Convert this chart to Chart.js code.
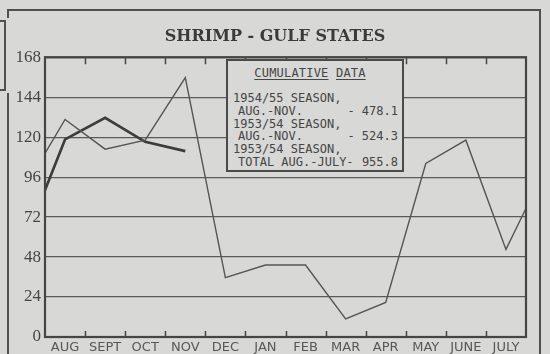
<!DOCTYPE html>
<html>
<head>
<meta charset="utf-8">
<script src="https://cdn.jsdelivr.net/npm/chart.js@4"></script>
<style>
  html, body { margin: 0; padding: 0; background: #d8d8d6; }
  #wrap { position: relative; width: 550px; height: 354px; overflow: hidden; background: #d8d8d6; }
  #wrap canvas { position: absolute; left: 0; top: 0; }
  .rule { position: absolute; background: #505050; }
  .tab { position: absolute; left: -4px; top: 20px; width: 6px; height: 67px; border: 2px solid #505050; }
  #cumulative {
    position: absolute; left: 226px; top: 59px; width: 174px; height: 109px;
    border: 2px solid #4a4a4a; background: #d8d8d6;
    font-family: "DejaVu Sans Mono", monospace; font-size: 12px; color: #454545;
  }
  #cumulative .head { position: absolute; left: 0; width: 164px; top: 6px; text-align: center; line-height: 13px; letter-spacing: 0.2px; }
  #cumulative .head u { text-underline-offset: 2px; }
  #cumulative .row { position: absolute; left: 5px; width: 165px; line-height: 13px; white-space: pre; }
  #cumulative .row.sub { left: 10px; width: 160px; display: flex; justify-content: space-between; }
</style>
</head>
<body>
<div id="wrap">
  <canvas id="shrimp-chart" width="550" height="354"></canvas>
  <!-- page frame around the chart -->
  <div class="rule" style="left:7px; top:9px; width:534px; height:2px;"></div>
  <div class="rule" style="left:539px; top:9px; width:2px; height:345px;"></div>
  <div class="rule" style="left:7px; top:9px; width:2px; height:9px;"></div>
  <div class="rule" style="left:7px; top:93px; width:2px; height:261px;"></div>
  <div class="tab"></div>
  <div id="cumulative">
    <div class="head"><u>CUMULATIVE</u> <u>DATA</u></div>
    <div class="row" style="top:31px;">1954/55 SEASON,</div>
    <div class="row sub" style="top:44px;"><span>AUG.-NOV.</span><span>- 478.1</span></div>
    <div class="row" style="top:57px;">1953/54 SEASON,</div>
    <div class="row sub" style="top:69px;"><span>AUG.-NOV.</span><span>- 524.3</span></div>
    <div class="row" style="top:82px;">1953/54 SEASON,</div>
    <div class="row sub" style="top:95px;"><span>TOTAL AUG.-JULY-</span><span>955.8</span></div>
  </div>
</div>
<script>
const months = ['AUG', 'SEPT', 'OCT', 'NOV', 'DEC', 'JAN', 'FEB', 'MAR', 'APR', 'MAY', 'JUNE', 'JULY'];
const yTicks = [0, 24, 48, 72, 96, 120, 144, 168];

// 1953/54 season, Aug - July
const season5354 = [130.6, 112.8, 118.2, 155.8, 35.6, 43.2, 43.2, 10.8, 20.8, 104.2, 118.2, 52.6];
// months either side of the 1953/54 season (line runs off the plot edges)
const season5354Before = 89.8;
const season5354After = 102;

// 1954/55 season, Aug - Nov
const season5455 = [118.6, 131.6, 117.2, 111.6];
const season5455Before = 57.8;

const inkDark = '#3c3c3c';
const inkMid = '#555555';

// month index as x, with the neighbouring months at -1 and 12
function toPoints(values, before, after) {
  const pts = [];
  if (before !== undefined) pts.push({ x: -1, y: before });
  values.forEach((v, i) => pts.push({ x: i, y: v }));
  if (after !== undefined) pts.push({ x: values.length, y: after });
  return pts;
}

// plot frame plus the short month-boundary ticks at top and bottom
const frameTicks = {
  id: 'frameTicks',
  afterDatasetsDraw(chart) {
    const { ctx, chartArea: a, scales: { x } } = chart;
    ctx.save();
    ctx.strokeStyle = '#454545';
    ctx.lineWidth = 1.5;
    for (let i = 1; i < months.length; i++) {
      const px = Math.round(x.getPixelForValue(i - 0.5)) + 0.5;
      ctx.beginPath();
      ctx.moveTo(px, a.top);
      ctx.lineTo(px, a.top + 7);
      ctx.moveTo(px, a.bottom);
      ctx.lineTo(px, a.bottom - 6);
      ctx.stroke();
    }
    ctx.lineWidth = 2.2;
    ctx.strokeRect(a.left, a.top, a.right - a.left, a.bottom - a.top);
    ctx.restore();
  }
};

new Chart(document.getElementById('shrimp-chart'), {
  type: 'line',
  data: {
    datasets: [
      {
        label: '1953/54',
        data: toPoints(season5354, season5354Before, season5354After),
        borderColor: inkMid,
        borderWidth: 1.4,
        pointRadius: 0,
        tension: 0
      },
      {
        label: '1954/55',
        data: toPoints(season5455, season5455Before),
        borderColor: inkDark,
        borderWidth: 2.6,
        pointRadius: 0,
        tension: 0
      }
    ]
  },
  options: {
    responsive: false,
    animation: false,
    layout: { padding: 0 },
    plugins: {
      legend: { display: false },
      tooltip: { enabled: false },
      title: {
        display: true,
        text: 'SHRIMP - GULF STATES',
        color: '#3a3a3a',
        font: { family: '"DejaVu Serif", serif', size: 16, weight: 'bold' },
        padding: { top: 27, bottom: 11 }
      }
    },
    scales: {
      x: {
        type: 'linear',
        min: -0.5,
        max: 11.5,
        afterBuildTicks: s => { s.ticks = months.map((m, i) => ({ value: i })); },
        afterFit: s => { s.height = 17; },
        grid: { display: false, drawTicks: false },
        border: { display: false },
        ticks: {
          padding: 3,
          autoSkip: false,
          maxRotation: 0,
          color: '#585858',
          font: { family: '"DejaVu Sans", sans-serif', size: 13 },
          callback: v => months[v]
        }
      },
      y: {
        min: 0,
        max: 168,
        afterBuildTicks: s => { s.ticks = yTicks.map(v => ({ value: v })); },
        afterFit: s => { s.width = 45; },
        grid: { color: '#5a5a5a', lineWidth: 1.2, drawTicks: false },
        border: { display: false },
        ticks: {
          padding: 4,
          color: '#454545',
          font: { family: '"Liberation Serif", serif', size: 17 }
        }
      },
      // empty margin on the right so the title stays centred on the page
      margin: {
        position: 'right',
        min: 0,
        max: 168,
        afterFit: s => { s.width = 24; },
        grid: { display: false, drawTicks: false },
        border: { display: false },
        ticks: { display: false }
      }
    }
  },
  plugins: [frameTicks]
});
</script>
</body>
</html>
